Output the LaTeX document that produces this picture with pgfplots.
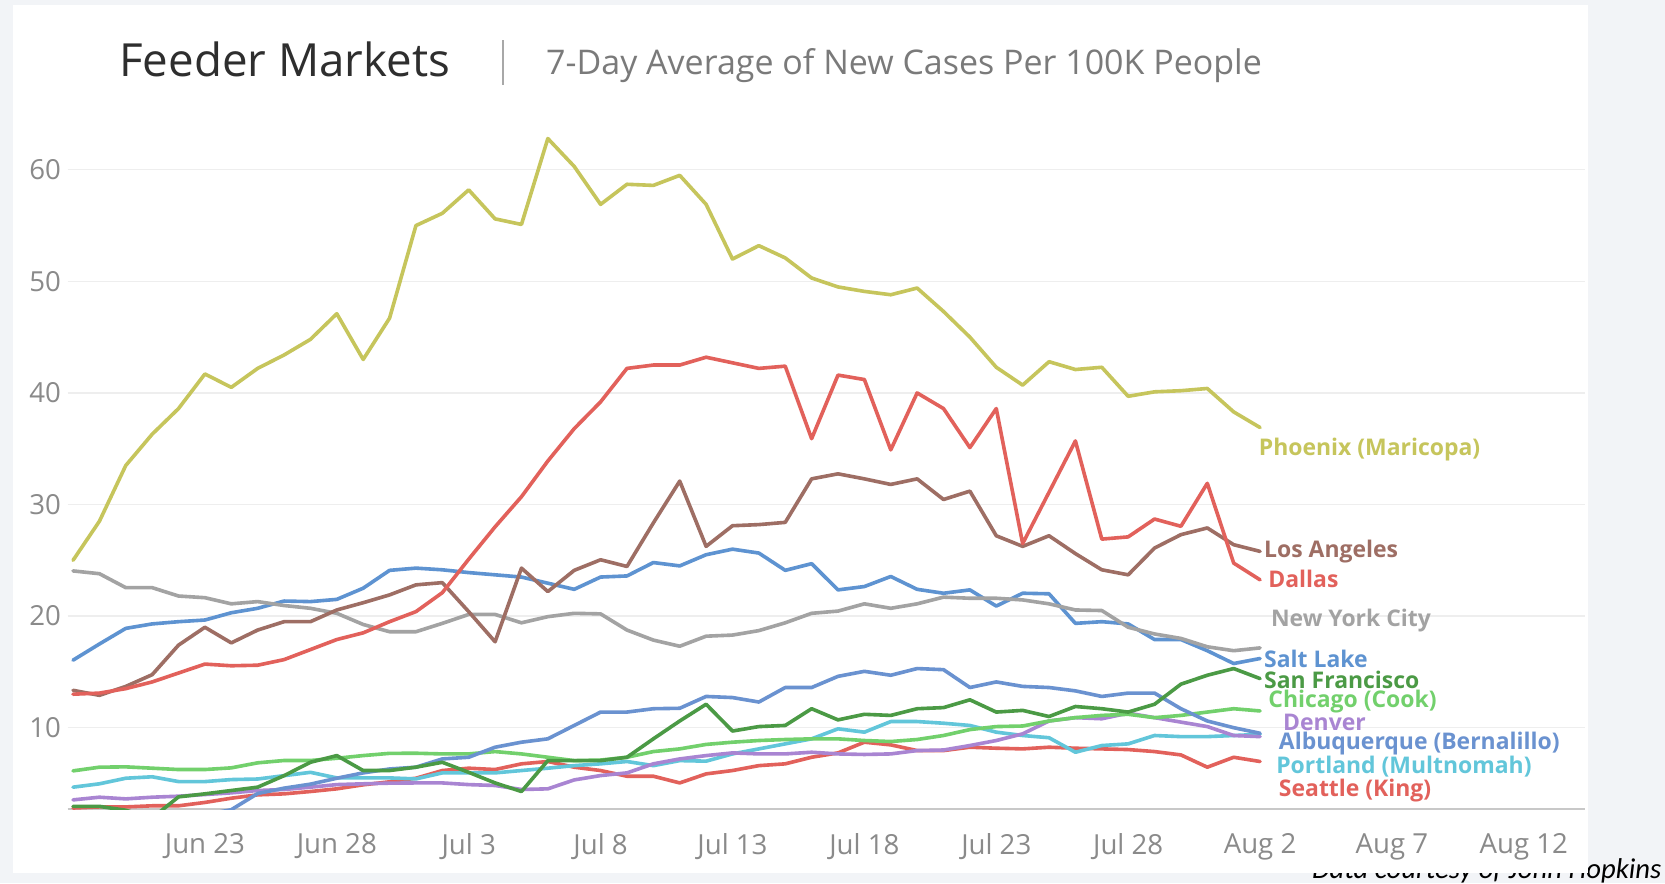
\documentclass[border=0pt]{standalone}
\usepackage{fontspec}
\setmainfont{Open Sans}
\newfontfamily\footfont{Carlito}
\usepackage{pgfplots}
\pgfplotsset{compat=1.18}
\definecolor{bgc}{HTML}{F2F4F7}
\definecolor{titlec}{HTML}{2E2E2E}
\definecolor{subc}{HTML}{7A7A7A}
\definecolor{sepc}{HTML}{A8A8A8}
\definecolor{tickc}{HTML}{8A8A8A}
\definecolor{gridc}{HTML}{EEEEEE}
\definecolor{axc}{HTML}{C8C8C8}
\definecolor{phxc}{HTML}{C6C55C}
\definecolor{dalc}{HTML}{E2615B}
\definecolor{lac}{HTML}{9E6E64}
\definecolor{nycc}{HTML}{A3A3A3}
\definecolor{slcc}{HTML}{5E93D1}
\definecolor{sfc}{HTML}{4B9A45}
\definecolor{chic}{HTML}{72D06C}
\definecolor{denc}{HTML}{A985D2}
\definecolor{abqc}{HTML}{6A92D0}
\definecolor{pdxc}{HTML}{62C6DA}
\definecolor{seac}{HTML}{E2615B}
\begin{document}
\begin{tikzpicture}[x=1pt,y=1pt]
\fill[bgc] (0,0) rectangle (784,416);
\node[anchor=base east, font=\footfont\itshape\fontsize{13.5}{16}\selectfont, inner sep=0pt] at (782.5,2.2) {Data courtesy of John Hopkins};
\fill[white] (6,5) rectangle (747.5,413.5);
\node[anchor=base west, inner sep=0pt, font=\fontsize{21.5}{25}\selectfont, text=titlec] at (56,380) {Feeder Markets};
\draw[sepc, line width=0.8pt] (237,376) -- (237,397);
\node[anchor=base west, inner sep=0pt, font=\fontsize{16}{19}\selectfont, text=subc] at (257,381) {7-Day Average of New Cases Per 100K People};
\begin{axis}[
  at={(31.9pt,35pt)}, anchor=south west,
  scale only axis, width=714.2pt, height=324.7pt,
  xmin=-0.2, xmax=57.3, ymin=2.7, ymax=64.5,
  clip mode=individual,
  axis line style={draw=none},
  major tick length=0pt,
  ymajorgrids, grid style={gridc, line width=0.6pt},
  ytick={10,20,30,40,50,60},
  xtick={5,10,15,20,25,30,35,40,45,50,55},
  xticklabels={Jun 23,Jun 28,Jul 3,Jul 8,Jul 13,Jul 18,Jul 23,Jul 28,Aug 2,Aug 7,Aug 12},
  /pgf/number format/assume math mode=true,
  tick label style={text=tickc, font=\fontsize{13}{15}\selectfont, inner sep=0pt},
  yticklabel style={anchor=east, xshift=-3pt},
  xticklabel style={anchor=north, yshift=-11.5pt},
  every axis plot/.append style={line width=1.7pt, line join=round, line cap=round, mark=none},
]
\draw[axc, line width=0.8pt] (rel axis cs:0,0) -- (rel axis cs:1,0);
% Seattle
\addplot[seac] coordinates {(0,2.8) (1,2.9) (2,2.9) (3,3.0) (4,3.0) (5,3.3) (6,3.68) (7,3.98) (8,4.07) (9,4.28) (10,4.52) (11,4.88) (12,5.15) (13,5.47) (14,6.16) (15,6.37) (16,6.25) (17,6.76) (18,6.97) (19,6.46) (20,6.16) (21,5.65) (22,5.65) (23,5.05) (24,5.86) (25,6.16) (26,6.6) (27,6.76) (28,7.35) (29,7.74) (30,8.7) (31,8.46) (32,7.95) (33,7.95) (34,8.25) (35,8.16) (36,8.1) (37,8.25) (38,8.16) (39,8.1) (40,8.04) (41,7.86) (42,7.56) (43,6.46) (44,7.35) (45,6.97)};
% Portland
\addplot[pdxc] coordinates {(0,4.67) (1,4.97) (2,5.47) (3,5.6) (4,5.17) (5,5.17) (6,5.35) (7,5.4) (8,5.7) (9,6.0) (10,5.5) (11,5.5) (12,5.5) (13,5.41) (14,5.95) (15,5.95) (16,5.95) (17,6.16) (18,6.37) (19,6.6) (20,6.76) (21,6.97) (22,6.6) (23,7.05) (24,7.0) (25,7.65) (26,8.1) (27,8.55) (28,9.0) (29,9.9) (30,9.6) (31,10.55) (32,10.55) (33,10.4) (34,10.2) (35,9.6) (36,9.3) (37,9.1) (38,7.8) (39,8.4) (40,8.55) (41,9.3) (42,9.2) (43,9.2) (44,9.3) (45,9.4)};
% Denver
\addplot[denc] coordinates {(0,3.53) (1,3.77) (2,3.62) (3,3.77) (4,3.86) (5,4.01) (6,4.16) (7,4.37) (8,4.46) (9,4.67) (10,4.9) (11,4.97) (12,5.03) (13,5.05) (14,5.05) (15,4.9) (16,4.82) (17,4.46) (18,4.52) (19,5.32) (20,5.71) (21,5.95) (22,6.76) (23,7.2) (24,7.5) (25,7.74) (26,7.65) (27,7.65) (28,7.8) (29,7.65) (30,7.6) (31,7.65) (32,7.95) (33,8.0) (34,8.4) (35,8.85) (36,9.45) (37,10.6) (38,10.9) (39,10.8) (40,11.3) (41,10.9) (42,10.5) (43,10.1) (44,9.3) (45,9.2)};
% Chicago
\addplot[chic] coordinates {(0,6.13) (1,6.46) (2,6.49) (3,6.37) (4,6.25) (5,6.25) (6,6.4) (7,6.85) (8,7.06) (9,7.06) (10,7.26) (11,7.5) (12,7.7) (13,7.71) (14,7.65) (15,7.65) (16,7.86) (17,7.65) (18,7.35) (19,7.05) (20,7.1) (21,7.35) (22,7.86) (23,8.1) (24,8.5) (25,8.7) (26,8.85) (27,8.94) (28,9.0) (29,9.0) (30,8.85) (31,8.76) (32,8.94) (33,9.3) (34,9.83) (35,10.1) (36,10.15) (37,10.6) (38,10.9) (39,11.1) (40,11.2) (41,10.9) (42,11.1) (43,11.4) (44,11.7) (45,11.5)};
% Albuquerque
\addplot[abqc] coordinates {(0,1.2) (1,1.4) (2,1.6) (3,1.8) (4,2.0) (5,2.2) (6,2.65) (7,4.1) (8,4.58) (9,4.94) (10,5.47) (11,5.95) (12,6.3) (13,6.46) (14,7.2) (15,7.35) (16,8.25) (17,8.7) (18,9.0) (19,10.2) (20,11.4) (21,11.4) (22,11.7) (23,11.74) (24,12.8) (25,12.7) (26,12.3) (27,13.6) (28,13.6) (29,14.6) (30,15.05) (31,14.7) (32,15.3) (33,15.2) (34,13.6) (35,14.1) (36,13.7) (37,13.6) (38,13.3) (39,12.8) (40,13.1) (41,13.1) (42,11.7) (43,10.6) (44,10.0) (45,9.5)};
% San Francisco
\addplot[sfc] coordinates {(0,2.95) (1,2.95) (2,2.6) (3,1.9) (4,3.8) (5,4.07) (6,4.37) (7,4.67) (8,5.7) (9,6.9) (10,7.5) (11,6.16) (12,6.16) (13,6.46) (14,6.9) (15,6.0) (16,5.05) (17,4.28) (18,7.05) (19,7.05) (20,7.05) (21,7.35) (22,9.0) (23,10.6) (24,12.1) (25,9.7) (26,10.1) (27,10.2) (28,11.7) (29,10.7) (30,11.2) (31,11.1) (32,11.7) (33,11.8) (34,12.5) (35,11.4) (36,11.55) (37,11.0) (38,11.9) (39,11.7) (40,11.4) (41,12.1) (42,13.9) (43,14.7) (44,15.3) (45,14.4)};
% Salt Lake
\addplot[slcc] coordinates {(0,16.05) (1,17.5) (2,18.9) (3,19.3) (4,19.5) (5,19.65) (6,20.3) (7,20.7) (8,21.35) (9,21.3) (10,21.5) (11,22.5) (12,24.1) (13,24.3) (14,24.15) (15,23.9) (16,23.7) (17,23.5) (18,22.95) (19,22.4) (20,23.5) (21,23.6) (22,24.8) (23,24.5) (24,25.5) (25,26.0) (26,25.65) (27,24.1) (28,24.7) (29,22.35) (30,22.65) (31,23.55) (32,22.4) (33,22.05) (34,22.35) (35,20.9) (36,22.05) (37,22.0) (38,19.35) (39,19.5) (40,19.3) (41,17.9) (42,17.9) (43,16.9) (44,15.75) (45,16.2)};
% New York City
\addplot[nycc] coordinates {(0,24.05) (1,23.8) (2,22.55) (3,22.55) (4,21.8) (5,21.65) (6,21.1) (7,21.3) (8,20.95) (9,20.7) (10,20.25) (11,19.25) (12,18.6) (13,18.6) (14,19.35) (15,20.15) (16,20.15) (17,19.4) (18,19.95) (19,20.25) (20,20.2) (21,18.75) (22,17.85) (23,17.3) (24,18.2) (25,18.3) (26,18.7) (27,19.4) (28,20.25) (29,20.45) (30,21.1) (31,20.7) (32,21.1) (33,21.7) (34,21.6) (35,21.6) (36,21.45) (37,21.1) (38,20.55) (39,20.5) (40,19.0) (41,18.4) (42,18.0) (43,17.25) (44,16.9) (45,17.15)};
% Los Angeles
\addplot[lac] coordinates {(0,13.35) (1,12.9) (2,13.7) (3,14.75) (4,17.4) (5,19.0) (6,17.6) (7,18.75) (8,19.5) (9,19.5) (10,20.55) (11,21.2) (12,21.9) (13,22.8) (14,23.0) (15,20.4) (16,17.7) (17,24.3) (18,22.2) (19,24.1) (20,25.05) (21,24.45) (22,28.35) (23,32.1) (24,26.25) (25,28.1) (26,28.2) (27,28.4) (28,32.3) (29,32.75) (30,32.3) (31,31.8) (32,32.3) (33,30.45) (34,31.2) (35,27.2) (36,26.25) (37,27.2) (38,25.6) (39,24.15) (40,23.7) (41,26.1) (42,27.3) (43,27.9) (44,26.4) (45,25.8)};
% Dallas
\addplot[dalc] coordinates {(0,13.0) (1,13.1) (2,13.5) (3,14.1) (4,14.9) (5,15.7) (6,15.55) (7,15.6) (8,16.1) (9,17.0) (10,17.9) (11,18.5) (12,19.5) (13,20.4) (14,22.1) (15,25.1) (16,28.0) (17,30.7) (18,33.9) (19,36.8) (20,39.2) (21,42.2) (22,42.5) (23,42.5) (24,43.2) (25,42.7) (26,42.2) (27,42.4) (28,35.9) (29,41.6) (30,41.2) (31,34.9) (32,40.0) (33,38.6) (34,35.1) (35,38.6) (36,26.5) (37,31.1) (38,35.7) (39,26.9) (40,27.1) (41,28.7) (42,28.05) (43,31.9) (44,24.75) (45,23.25)};
% Phoenix
\addplot[phxc] coordinates {(0,25.0) (1,28.5) (2,33.5) (3,36.3) (4,38.6) (5,41.7) (6,40.5) (7,42.2) (8,43.4) (9,44.8) (10,47.1) (11,43.0) (12,46.7) (13,55.0) (14,56.1) (15,58.2) (16,55.6) (17,55.1) (18,62.8) (19,60.3) (20,56.9) (21,58.7) (22,58.6) (23,59.5) (24,56.9) (25,52.0) (26,53.2) (27,52.1) (28,50.3) (29,49.5) (30,49.1) (31,48.8) (32,49.4) (33,47.3) (34,45.0) (35,42.3) (36,40.7) (37,42.8) (38,42.1) (39,42.3) (40,39.7) (41,40.1) (42,40.2) (43,40.4) (44,38.3) (45,36.9)};
\tikzset{lbl/.style={anchor=west, inner sep=0pt, font=\bfseries\fontsize{10.8}{12}\selectfont}}
\node[lbl, text=phxc] at (axis cs:44.94,34.9) {Phoenix (Maricopa)};
\node[lbl, text=lac] at (axis cs:45.14,25.8) {Los Angeles};
\node[lbl, text=dalc] at (axis cs:45.3,23.3) {Dallas};
\node[lbl, text=nycc] at (axis cs:45.4,19.6) {New York City};
\node[lbl, text=slcc] at (axis cs:45.14,16.2) {Salt Lake};
\node[lbl, text=sfc] at (axis cs:45.14,14.3) {San Francisco};
\node[lbl, text=chic] at (axis cs:45.3,12.3) {Chicago (Cook)};
\node[lbl, text=denc] at (axis cs:45.86,10.5) {Denver};
\node[lbl, text=abqc] at (axis cs:45.7,8.6) {Albuquerque (Bernalillo)};
\node[lbl, text=pdxc] at (axis cs:45.6,6.5) {Portland (Multnomah)};
\node[lbl, text=seac] at (axis cs:45.7,4.35) {Seattle (King)};
\end{axis}
\end{tikzpicture}
\end{document}
